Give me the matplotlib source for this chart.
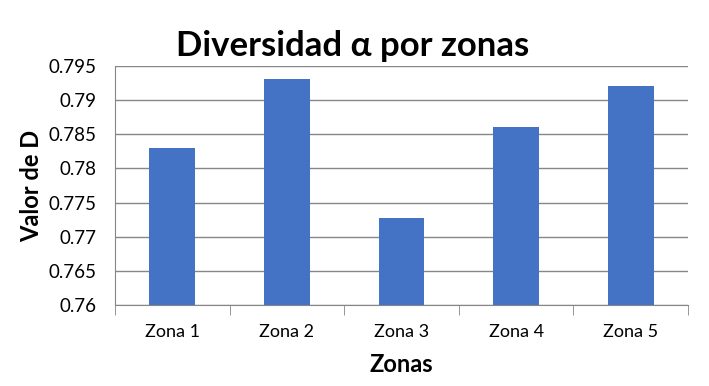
import matplotlib
matplotlib.use("Agg")
import matplotlib.pyplot as plt

plt.rcParams['font.family'] = ['Lato', 'DejaVu Sans']

# datos
zonas = ['Zona 1', 'Zona 2', 'Zona 3', 'Zona 4', 'Zona 5']
valores = [0.7830, 0.7931, 0.7727, 0.7861, 0.7921]
y_ticks = [0.76, 0.765, 0.77, 0.775, 0.78, 0.785, 0.79, 0.795]
y_labels = ['0.76', '0.765', '0.77', '0.775', '0.78', '0.785', '0.79', '0.795']

fig = plt.figure(figsize=(7.09, 3.86), dpi=100)
ax = fig.add_axes([0.1622, 0.2098, 0.8082, 0.6192])

x = range(len(zonas))
ax.bar(x, valores, width=0.4, color='#4472C4', zorder=3)

ax.set_ylim(0.76, 0.795)
ax.set_xlim(-0.5, len(zonas) - 0.5)
ax.set_yticks(y_ticks)
ax.set_yticklabels(y_labels, fontsize=13.5)
ax.set_xticks(list(x))
ax.set_xticklabels(zonas, fontsize=13)
ax.tick_params(axis='x', length=0, pad=14)
ax.tick_params(axis='y', length=0, pad=13)

# ticks menores entre categorias
ax.set_xticks([i - 0.5 for i in range(len(zonas) + 1)], minor=True)
ax.tick_params(axis='x', which='minor', length=7, color='#868686', direction='out')

ax.grid(axis='y', color='#868686', linewidth=1, zorder=0)
for s in ['top', 'right']:
    ax.spines[s].set_visible(False)
ax.spines['left'].set_color('#868686')
ax.spines['bottom'].set_color('#868686')

ax.set_ylabel('Valor de D', fontsize=17, fontweight='bold', labelpad=4)
ax.set_xlabel('Zonas', fontsize=17, fontweight='bold', labelpad=9)
fig.text(0.497, 0.882, 'Diversidad α por zonas', ha='center', va='center',
         fontsize=25, fontweight='bold')

fig.savefig('out.png', dpi=100)
